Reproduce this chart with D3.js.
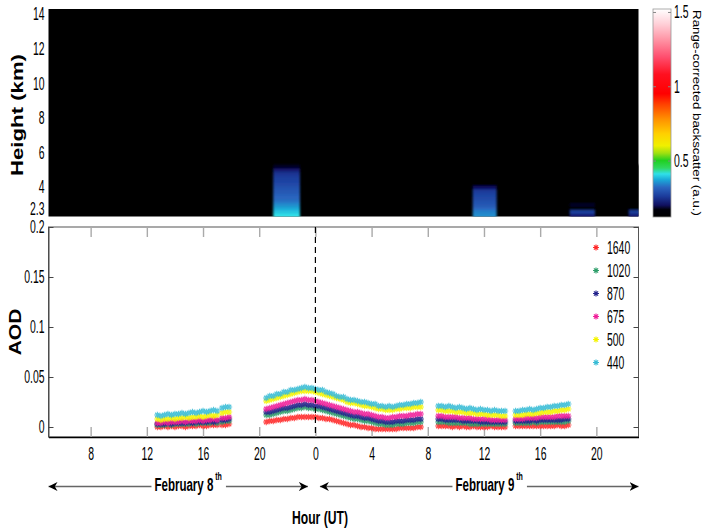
<!DOCTYPE html>
<html><head><meta charset="utf-8">
<script src="https://cdn.jsdelivr.net/npm/d3@7"></script>
<style>
body{margin:0;background:#fff}
svg{display:block}
text{font-family:"Liberation Sans",Arial,sans-serif;fill:#000}
</style>
</head><body><svg id="c" width="703" height="532"></svg>
<script>
// ---------------- DATA ----------------
// Lidar panel
const heightTicks = [2.3, 4, 6, 8, 10, 12, 14];
const lidarHeights = [2.3,2.5,2.7,2.9,3.1,3.3,3.5,3.7,3.9,4.1,4.3,4.5,4.7,4.9,5.1,5.3]; // bin edges (km)
const layerStart = [21.0, 35.2, 42.1, 46.3];   // hours since Feb 8 00 UT
const layerEnd   = [22.9, 36.9, 43.9, 47.5];
const layerProfiles = [
  [0.41,0.39,0.37,0.35,0.33,0.32,0.31,0.30,0.29,0.28,0.27,0.26,0.25,0.22,0.18],
  [0.35,0.34,0.32,0.30,0.29,0.28,0.27,0.26,0.20,0.12,0.12,0.12,0.12,0.12,0.12],
  [0.22,0.27,0.13,0.18,0.12,0.12,0.12,0.12,0.12,0.12,0.12,0.12,0.12,0.12,0.12],
  [0.22,0.26,0.12,0.12,0.12,0.12,0.12,0.12,0.12,0.12,0.12,0.12,0.12,0.12,0.12]
];
const cmapValues = [0.12,0.17,0.20,0.26,0.32,0.37,0.41,0.45,0.50,0.55,0.60,0.68,0.78,0.88,0.95,1.08,1.20,1.32,1.42,1.52];
const cmapColors = ['#000000','#00000a','#101060','#1c3c9c','#2a66c0','#1aa8d8','#30e0e8','#30d860','#20d020','#a0e010','#f0f000','#ffd000','#ff9000','#ff4000','#ff0000','#ff1020','#ff5070','#ff98a8','#ffd0d8','#ffffff'];
const colorbarTicks = [0.5, 1, 1.5];

// AOD panel
const hourTicks = [8,12,16,20,24,28,32,36,40,44];
const aodTicks = [0, 0.05, 0.1, 0.15, 0.2];
const aodTime = [
  12.75,13,13.25,13.5,13.75,14,14.25,14.5,14.75,15,15.25,15.5,15.75,16,16.25,16.5,16.75,17,
  17.35,17.6,17.85,
  20.5,20.75,21,21.25,21.5,21.75,22,22.25,22.5,22.75,23,23.25,23.5,23.75,24,24.25,24.5,24.75,25,25.25,25.5,25.75,26,26.25,26.5,26.75,27,27.25,27.5,27.75,28,28.25,28.5,28.75,29,29.25,29.5,29.75,30,30.25,30.5,30.75,31,31.25,31.5,
  32.75,33,33.25,33.5,33.75,34,34.25,34.5,34.75,35,35.25,35.5,35.75,36,36.25,36.5,36.75,37,37.25,37.5,
  38.25,38.5,38.75,39,39.25,39.5,39.75,40,40.25,40.5,40.75,41,41.25,41.5,41.75,42
];
const aod1640 = [
  .000,.000,.001,.000,.001,.000,.001,.001,.000,.001,.001,.001,.002,.001,.001,.002,.002,.002,
  .002,.002,.003,
  .005,.006,.006,.007,.007,.008,.008,.009,.009,.010,.010,.010,.010,.010,.010,.009,.009,.008,.008,.007,.006,.005,.004,.003,.002,.002,.001,.000,.000,-.001,-.001,-.002,-.002,-.002,-.002,-.002,-.002,-.002,-.001,-.001,-.001,-.001,-.001,.000,.000,
  .001,.001,.001,.001,.000,.001,.000,.001,.000,.000,.001,.000,.000,.000,.000,.001,.000,.000,.000,.000,
  .001,.001,.001,.001,.001,.001,.001,.001,.001,.001,.001,.001,.002,.001,.001,.002
];
const aod1020 = [
  .002,.002,.002,.003,.002,.003,.003,.003,.003,.003,.004,.003,.004,.004,.004,.004,.005,.004,
  .005,.006,.006,
  .012,.012,.013,.014,.015,.016,.016,.017,.018,.019,.019,.020,.019,.019,.018,.018,.017,.016,.015,.014,.013,.012,.011,.010,.009,.008,.008,.007,.006,.006,.005,.004,.003,.003,.002,.002,.002,.003,.003,.003,.004,.004,.004,.005,.005,
  .005,.005,.005,.004,.004,.004,.004,.004,.004,.003,.003,.003,.003,.003,.003,.003,.003,.003,.003,.003,
  .004,.004,.004,.004,.004,.005,.004,.005,.005,.005,.005,.005,.005,.005,.005,.006
];
const aod870 = [
  .003,.003,.003,.004,.003,.004,.004,.004,.004,.005,.004,.005,.005,.005,.005,.006,.005,.006,
  .007,.007,.008,
  .015,.015,.016,.017,.018,.019,.019,.020,.021,.022,.022,.023,.022,.022,.021,.021,.020,.019,.018,.017,.016,.015,.014,.013,.012,.011,.011,.010,.009,.009,.008,.007,.006,.006,.005,.005,.005,.006,.006,.006,.007,.007,.007,.008,.008,
  .008,.008,.007,.007,.007,.007,.007,.006,.006,.006,.006,.006,.005,.005,.005,.005,.005,.005,.005,.005,
  .006,.006,.006,.006,.006,.007,.006,.007,.007,.007,.007,.007,.007,.007,.008,.008
];
const aod675 = [
  .004,.004,.005,.004,.005,.005,.005,.006,.005,.006,.006,.006,.007,.006,.007,.007,.008,.007,
  .009,.009,.010,
  .018,.019,.020,.021,.022,.023,.024,.025,.026,.027,.027,.028,.027,.027,.026,.025,.024,.023,.022,.021,.020,.019,.018,.017,.016,.015,.015,.014,.013,.013,.012,.011,.010,.010,.009,.009,.010,.010,.011,.011,.011,.012,.012,.013,.013,
  .011,.011,.010,.010,.010,.010,.009,.009,.009,.009,.008,.008,.008,.008,.008,.007,.007,.007,.007,.007,
  .008,.008,.008,.009,.009,.009,.009,.010,.010,.010,.010,.010,.011,.011,.011,.011
];
const aod500 = [
  .008,.007,.008,.008,.009,.008,.009,.009,.010,.009,.010,.010,.011,.010,.011,.012,.011,.012,
  .014,.015,.015,
  .026,.027,.028,.029,.030,.031,.032,.033,.034,.035,.036,.036,.036,.036,.035,.034,.033,.032,.031,.030,.029,.028,.027,.025,.024,.024,.023,.022,.021,.021,.020,.019,.018,.018,.017,.017,.017,.018,.018,.019,.019,.019,.020,.020,.020,
  .017,.017,.016,.016,.016,.015,.015,.015,.014,.014,.014,.013,.013,.013,.012,.012,.012,.012,.011,.011,
  .012,.012,.012,.013,.013,.013,.014,.014,.015,.015,.015,.016,.016,.017,.017,.018
];
const aod440 = [
  .012,.011,.012,.013,.012,.013,.013,.014,.013,.014,.015,.014,.015,.016,.015,.016,.017,.016,
  .019,.020,.020,
  .029,.031,.031,.033,.033,.035,.035,.037,.037,.038,.039,.040,.039,.039,.038,.037,.037,.035,.034,.033,.031,.030,.030,.028,.027,.027,.026,.025,.025,.024,.023,.023,.021,.021,.020,.021,.020,.021,.022,.022,.023,.023,.024,.024,.025,
  .021,.021,.020,.021,.020,.019,.020,.019,.018,.019,.018,.017,.018,.017,.017,.016,.017,.016,.016,.016,
  .016,.016,.017,.017,.018,.017,.018,.019,.019,.020,.020,.021,.021,.022,.022,.023
];
const seriesNames  = ['1640','1020','870','675','500','440'];
const seriesValues = [aod1640, aod1020, aod870, aod675, aod500, aod440];
const seriesColors = ['#ff2a2a','#2e9e6a','#24248c','#f0209a','#f4f400','#38bcd6'];

// ---------------- DRAW ----------------
const svg = d3.select('#c');
const x = d3.scaleLinear().domain([5,47]).range([48.5,638.5]);
const yTop = d3.scaleLinear().domain([2.3,14.3]).range([216.5,9]);
const yAod = d3.scaleLinear().domain([-0.01,0.2]).range([437,227]);
const cbY = d3.scaleLinear().domain([0.12,1.52]).range([217,9]);
const cmap = d3.scaleLinear().domain(cmapValues).range(cmapColors).clamp(true);

function squash(sel, f){
  sel.each(function(){
    const w = this.getComputedTextLength();
    if (w > 0){ this.setAttribute('textLength', w*f); this.setAttribute('lengthAdjust','spacingAndGlyphs'); }
  });
}

const defs = svg.append('defs');
const [x0, x1] = x.range();
defs.append('clipPath').attr('id','clipTop').append('rect')
  .attr('x', x0).attr('y', yTop.range()[1]).attr('width', x1-x0).attr('height', yTop.range()[0]-yTop.range()[1]);
const flt = defs.append('filter').attr('id','soft').attr('x','-20%').attr('y','-20%').attr('width','140%').attr('height','140%');
flt.append('feGaussianBlur').attr('stdDeviation','1.3 1.0');

// --- top lidar panel
const gTop = svg.append('g');
gTop.append('rect').attr('x', x0).attr('y', yTop.range()[1]).attr('width', x1-x0)
  .attr('height', yTop.range()[0]-yTop.range()[1]).attr('fill','#000');
const cells = [];
layerStart.forEach((t0,i)=>{
  layerProfiles[i].forEach((v,j)=>{
    cells.push({t0, t1: layerEnd[i], h0: lidarHeights[j], h1: lidarHeights[j+1], v, first: j===0});
  });
});
gTop.append('g').attr('clip-path','url(#clipTop)').append('g').attr('filter','url(#soft)')
  .selectAll('rect').data(cells).join('rect')
  .attr('x', d=>x(d.t0)).attr('width', d=>x(d.t1)-x(d.t0))
  .attr('y', d=>yTop(d.h1)).attr('height', d=>yTop(d.h0)-yTop(d.h1)+(d.first?6:0.6))
  .attr('fill', d=>cmap(d.v));

const gTopAxis = svg.append('g').attr('transform',`translate(${x0},0)`)
  .call(d3.axisLeft(yTop).tickValues(heightTicks).tickFormat(d=>String(d)).tickSize(0).tickPadding(4));
gTopAxis.select('.domain').remove();
gTopAxis.selectAll('text').attr('font-size',18).attr('font-family','"Liberation Sans",Arial,sans-serif')
  .filter(d=>d===2.3).attr('dy','-0.12em');
squash(gTopAxis.selectAll('text'), 0.58);

svg.append('text').attr('transform','translate(23,115) rotate(-90) scale(1,0.78)')
  .attr('text-anchor','middle').attr('font-size',21).attr('font-weight','bold').text('Height (km)')
  .attr('textLength',122).attr('lengthAdjust','spacingAndGlyphs');

// --- colorbar
const cbX = 653, cbW = 18;
const grad = defs.append('linearGradient').attr('id','cbGrad').attr('x1',0).attr('y1',1).attr('x2',0).attr('y2',0);
const [cbMin, cbMax] = cbY.domain();
cmapValues.forEach((v,i)=>{
  grad.append('stop').attr('offset', (v-cbMin)/(cbMax-cbMin)).attr('stop-color', cmapColors[i]);
});
svg.append('rect').attr('x',cbX).attr('y',cbY.range()[1]).attr('width',cbW)
  .attr('height',cbY.range()[0]-cbY.range()[1]).attr('fill','url(#cbGrad)').attr('stroke','#999').attr('stroke-width',0.8);
const gCb = svg.append('g').attr('transform',`translate(${cbX+cbW},0)`)
  .call(d3.axisRight(cbY).tickValues(colorbarTicks).tickFormat(d=>String(d)).tickSizeInner(-3).tickSizeOuter(0).tickPadding(3));
gCb.select('.domain').remove();
gCb.selectAll('line').attr('stroke','#888');
gCb.selectAll('text').attr('font-size',18).attr('font-family','"Liberation Sans",Arial,sans-serif');
squash(gCb.selectAll('text'), 0.58);
svg.append('g').attr('transform',`translate(${cbX},0)`)
  .call(d3.axisLeft(cbY).tickValues(colorbarTicks).tickFormat('').tickSizeInner(-3).tickSizeOuter(0))
  .call(g=>{g.select('.domain').remove(); g.selectAll('line').attr('stroke','#888');});
svg.append('text').attr('transform',`translate(693,${(cbY.range()[0]+cbY.range()[1])/2}) rotate(90)`)
  .attr('text-anchor','middle').attr('font-size',11.5).attr('fill','#222').text('Range-corrected backscatter (a.u.)')
  .attr('textLength',206).attr('lengthAdjust','spacingAndGlyphs');

// --- AOD panel
const gB = svg.append('g');
const [yb, yt] = yAod.range();
gB.append('rect').attr('x',x0).attr('y',yt).attr('width',x1-x0).attr('height',yb-yt)
  .attr('fill','none').attr('stroke','#555').attr('stroke-width',1);

const gxb = gB.append('g').attr('transform',`translate(0,${yb})`)
  .call(d3.axisBottom(x).tickValues(hourTicks).tickFormat(d=>String(d%24)).tickSizeInner(-10).tickSizeOuter(0).tickPadding(10));
gxb.select('.domain').attr('stroke','#000').attr('stroke-width',1.4);
gxb.selectAll('.tick line').attr('stroke','#aaa').attr('stroke-width',1.4);
gxb.selectAll('text').attr('font-size',18).attr('font-family','"Liberation Sans",Arial,sans-serif');
squash(gxb.selectAll('text'), 0.58);
const gxt = gB.append('g').attr('transform',`translate(0,${yt})`)
  .call(d3.axisTop(x).tickValues(hourTicks).tickFormat('').tickSizeInner(-10).tickSizeOuter(0));
gxt.select('.domain').remove();
gxt.selectAll('.tick line').attr('stroke','#aaa').attr('stroke-width',1.4);

const gyl = gB.append('g').attr('transform',`translate(${x0},0)`)
  .call(d3.axisLeft(yAod).tickValues(aodTicks).tickFormat(d=>String(d)).tickSizeInner(-5).tickSizeOuter(0).tickPadding(4));
gyl.select('.domain').attr('stroke','#444');
gyl.selectAll('.tick line').attr('stroke','#444');
gyl.selectAll('text').attr('font-size',18).attr('font-family','"Liberation Sans",Arial,sans-serif');
squash(gyl.selectAll('text'), 0.58);
const gyr = gB.append('g').attr('transform',`translate(${x1},0)`)
  .call(d3.axisRight(yAod).tickValues(aodTicks).tickFormat('').tickSizeInner(-5).tickSizeOuter(0));
gyr.select('.domain').remove();
gyr.selectAll('.tick line').attr('stroke','#444');

svg.append('text').attr('transform',`translate(21,${(yb+yt)/2}) rotate(-90) scale(1,0.75)`)
  .attr('text-anchor','middle').attr('font-size',21).attr('font-weight','bold').text('AOD');

function star(r){ const k=r*0.7; return `M${-r},0H${r}M0,${-r}V${r}M${-k},${-k}L${k},${k}M${-k},${k}L${k},${-k}`; }

seriesNames.forEach((name,si)=>{
  gB.append('g').selectAll('path')
    .data(aodTime.map((t,i)=>({t, v: seriesValues[si][i]})))
    .join('path')
    .attr('d', star(3.2))
    .attr('transform', d=>`translate(${x(d.t)},${yAod(d.v)})`)
    .attr('fill','none').attr('stroke', seriesColors[si]).attr('stroke-width',1.1).attr('opacity',0.85);
});

// dashed midnight line
gB.append('line').attr('x1',x(24)).attr('x2',x(24)).attr('y1',yt).attr('y2',yb)
  .attr('stroke','#000').attr('stroke-width',1.2).attr('stroke-dasharray','6,4');

// legend
const leg = gB.append('g');
seriesNames.forEach((name,i)=>{
  const ly = 247.5 + i*23;
  leg.append('path').attr('d', star(3)).attr('transform',`translate(596,${ly})`)
    .attr('fill','none').attr('stroke',seriesColors[i]).attr('stroke-width',1.1);
  leg.append('text').attr('x',607).attr('y',ly).attr('dy','0.35em').attr('font-size',18).text(name);
});
squash(leg.selectAll('text'), 0.58);

// --- date arrows
const ah = defs.append('marker').attr('id','ah').attr('viewBox','0 -5 10 10').attr('refX',10).attr('refY',0)
  .attr('markerWidth',9).attr('markerHeight',10).attr('markerUnits','userSpaceOnUse').attr('orient','auto-start-reverse');
ah.append('path').attr('d','M0,-5L10,0L0,5L3,0Z').attr('fill','#000');
const arrowY = 486.5;
const sx = 0.64;
const arrows = [
  {a: x0, b: x(24)-7.5, label:'February 8', off: 10},
  {a: x(24)+4.5, b: x1, label:'February 9', off: 10}
];
arrows.forEach(d=>{
  svg.append('line').attr('x1',d.a).attr('x2',d.b).attr('y1',arrowY).attr('y2',arrowY)
    .attr('stroke','#666').attr('stroke-width',1.3)
    .attr('marker-start','url(#ah)').attr('marker-end','url(#ah)');
  const bg = svg.append('rect').attr('fill','#fff');
  const g = svg.append('g');
  const t = g.append('text').attr('x',0).attr('y',0).attr('font-size',18).attr('font-weight','bold').text(d.label);
  const w1 = t.node().getComputedTextLength();
  const s = g.append('text').attr('x', w1 + 3).attr('y',-11).attr('font-size',11).attr('font-weight','bold').text('th');
  const w2 = s.node().getComputedTextLength();
  const w = (w1 + 3 + w2) * sx;
  const cx = (d.a+d.b)/2 + d.off;
  const start = cx - w/2;
  g.attr('transform', `translate(${start},491) scale(${sx},1)`);
  bg.attr('x', start-3).attr('y', 470).attr('width', w+7).attr('height', 26);
});

const hl = svg.append('text').attr('x',320).attr('y',524).attr('text-anchor','middle')
  .attr('font-size',18).attr('font-weight','bold').text('Hour (UT)');
hl.attr('textLength',56).attr('lengthAdjust','spacingAndGlyphs');
</script>
</body></html>
